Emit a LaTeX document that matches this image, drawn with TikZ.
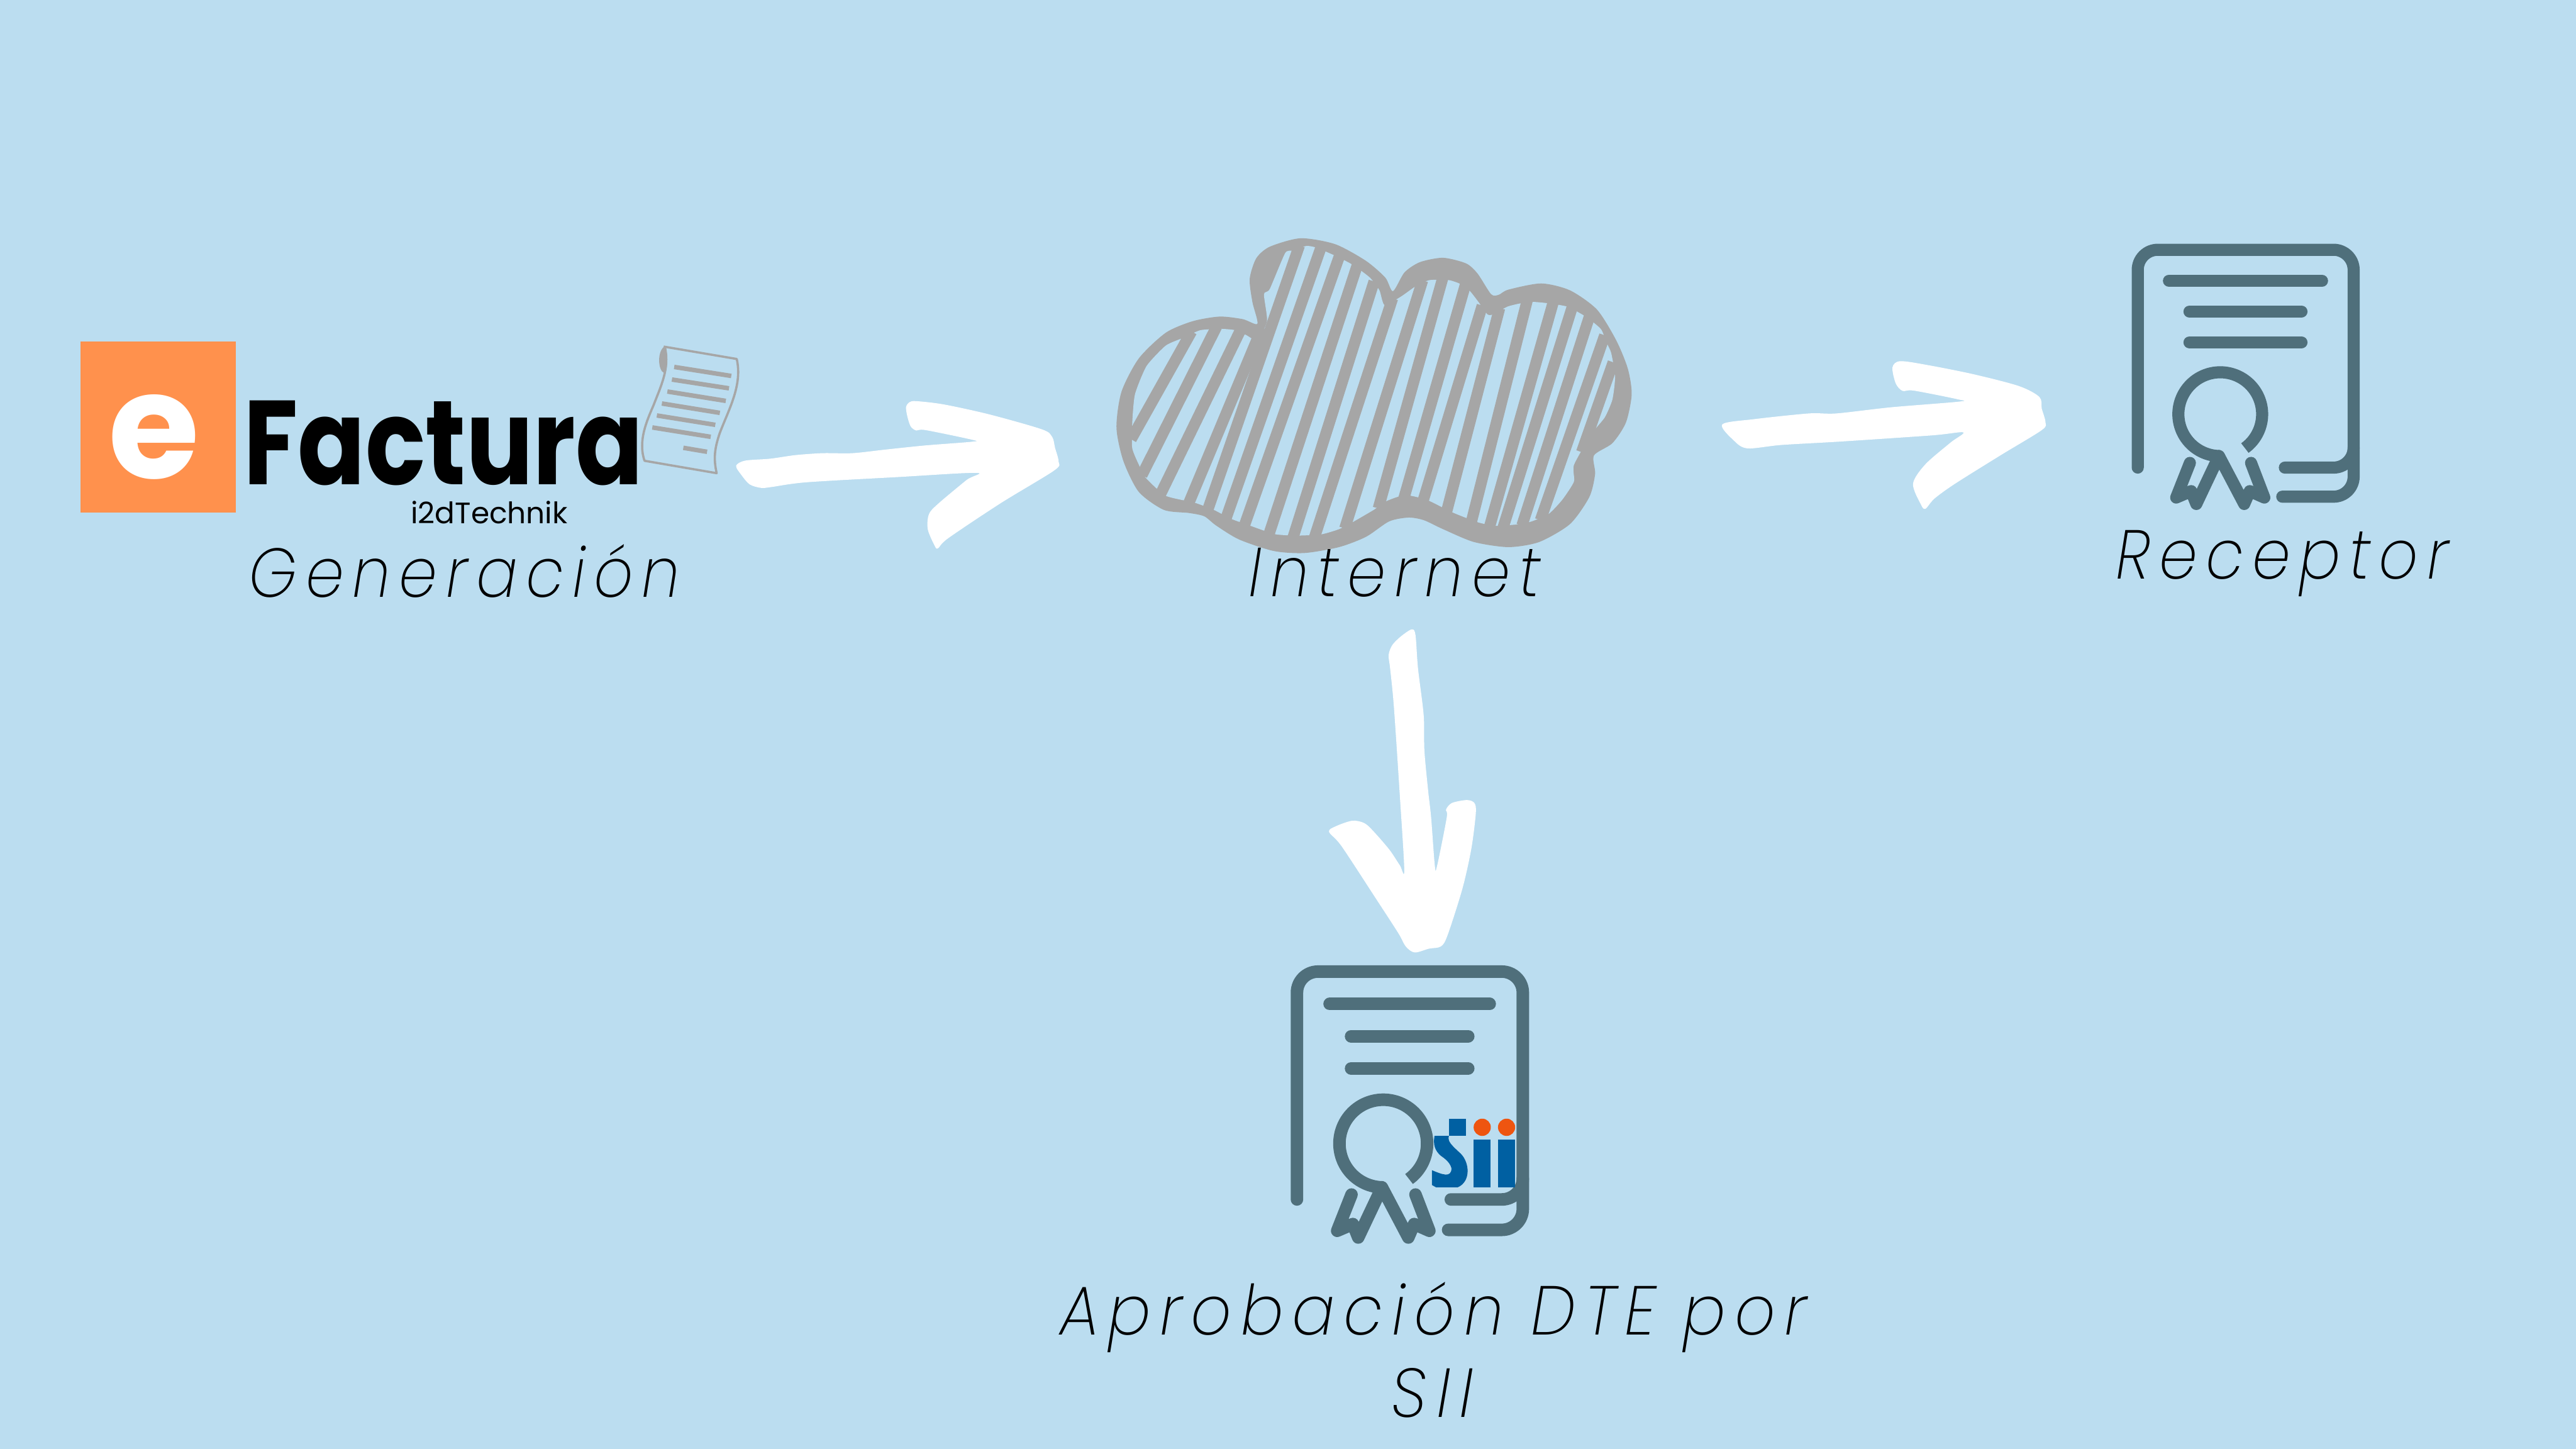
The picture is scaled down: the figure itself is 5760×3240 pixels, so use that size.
\documentclass[tikz,border=0pt]{standalone}
\usepackage{fontspec}
\usepackage{graphicx}
\setmainfont{Poppins}
\newfontfamily\labf[LetterSpace=14]{Poppins ExtraLight Italic}
\newfontfamily\boldf{Poppins Bold}
\definecolor{bgblue}{HTML}{BBDDF0}
\definecolor{cloudgrey}{HTML}{A6A6A6}
\definecolor{iconslate}{HTML}{4F6F7B}
\definecolor{logoorange}{HTML}{FF914D}
\definecolor{siiblue}{HTML}{0060A2}
\definecolor{siired}{HTML}{EE5510}
\tikzset{
  label text/.style={anchor=base west,inner sep=0pt,font=\labf\fontsize{44}{52.9}\selectfont,text=black},
  brush/.style={fill=white,draw=none},
  hatch/.style={draw=cloudgrey,line width=.25cm},
  iconline/.style={draw=iconslate,line width=.28cm,line cap=round,line join=round},
  scrollline/.style={draw=cloudgrey,line width=.10cm},
}
\newcommand{\certicon}{%
  \draw[iconline] (2900,2682) -- (2900,2219.5) .. controls (2900,2193.5) and (2921,2172.5) .. (2947,2172.5)
     -- (3358,2172.5) .. controls (3384,2172.5) and (3405,2193.5) .. (3405,2219.5)
     -- (3405,2703) .. controls (3405,2729) and (3384,2750) .. (3358,2750) -- (3238,2750);
  \draw[iconline] (3244,2682) -- (3358,2682) .. controls (3384,2682) and (3405,2661) .. (3405,2635);
  \draw[iconline] (2973,2245) -- (3331,2245);
  \draw[iconline] (3021,2317) -- (3283,2317);
  \draw[iconline] (3021,2389) -- (3283,2389);
  \draw[iconline,line cap=butt] plot[domain=90:414,samples=60,smooth] ({3093+98*cos(\x)},{2557+98*sin(\x)});
  \draw[iconline] (3022,2671) -- (2990,2752) -- (3025,2737) -- (3037,2767) -- (3090,2655) -- (3149,2767) -- (3162,2737) -- (3196,2752) -- (3165,2671);
}
\begin{document}
\begin{tikzpicture}[x=.01cm,y=-.01cm]
\path[use as bounding box,fill=bgblue] (0,0) rectangle (5760,3240);

% logo
\fill[logoorange] (180,763) rectangle (528,1146);
\node[inner sep=0pt,anchor=base west,text=white,font=\boldf\fontsize{94}{94}\selectfont] (logoe) at (242,1069) {e};
\node[inner sep=0pt,anchor=base west,text=black] (logof) at (544,1083)
  {\scalebox{.832}[1]{\boldf\fontsize{76}{76}\selectfont Factura}};
\node[inner sep=0pt,anchor=base west,text=black,font=\fontsize{18.8}{18.8}\selectfont] (logos) at (918,1171) {i2dTechnik};
% scroll
\begin{scope}[shift={(130,700)},xscale=1.0204,yscale=.4464]
  \draw[draw=cloudgrey,line width=.05cm,line join=round]
    (1327,168) -- (1487,230) .. controls (1500,360) and (1470,480) .. (1450,600)
    .. controls (1438,680) and (1436,730) .. (1443,802) -- (1285,740)
    .. controls (1270,640) and (1290,540) .. (1305,460) .. controls (1320,370) and (1340,280) .. (1330,175);
  \fill[cloudgrey] (1327,170) .. controls (1312,200) and (1315,290) .. (1328,300)
     .. controls (1338,270) and (1336,200) .. (1327,170) -- cycle;
  \foreach \ax/\ay/\bx/\by in {1350/270/1475/315,1345/333/1470/377,1335/393/1463/440,1323/453/1450/500,1312/513/1440/560,1302/573/1430/620,1370/675/1422/695}
    \draw[scrollline] (\ax,\ay) -- (\bx,\by);
\end{scope}

% cloud
\begin{scope}[shift={(2400,480)},xscale=.861,yscale=.574]
  \fill[cloudgrey] plot[smooth cycle,tension=.45] coordinates {
    (112,830) (125,690) (170,560) (240,460) (310,415) (380,397) (440,407) (478,425)
    (465,340) (458,250) (475,170) (510,125) (590,92) (680,115) (760,180) (810,245) (830,298)
    (860,225) (900,185) (960,168) (1020,190) (1050,230) (1085,310) (1105,312) (1130,292)
    (1215,268) (1290,295) (1360,370) (1410,490) (1440,600) (1450,700) (1435,810) (1400,890) (1352,938)
    (1355,1010) (1340,1100) (1290,1205) (1210,1275) (1130,1295) (1040,1275) (960,1225) (910,1190)
    (870,1180) (820,1195) (760,1255) (690,1295) (600,1318) (520,1310) (430,1265) (370,1210)
    (340,1175) (300,1162) (235,1150) (170,1080) (130,960)};
  \fill[bgblue] plot[smooth cycle,tension=.35] coordinates {
    (153,810) (160,700) (190,590) (240,510) (285,480) (330,450) (385,445) (420,450) (450,470) (478,490)
    (503,415) (495,310) (510,290) (550,150) (570,140) (605,122) (630,128) (680,160) (725,195) (770,245)
    (795,295) (808,352) (850,320) (890,278) (925,255) (975,255) (1005,270) (1030,298) (1052,340) (1075,388)
    (1087,390) (1128,358) (1163,345) (1195,340) (1232,345) (1282,358) (1325,392) (1355,425) (1372,450)
    (1387,505) (1397,540) (1407,630) (1400,720) (1380,790) (1345,855) (1300,975) (1300,1040) (1270,1110)
    (1235,1165) (1190,1195) (1150,1207) (1095,1212) (1050,1198) (985,1160) (920,1112) (876,1095) (845,1098)
    (810,1118) (780,1150) (725,1198) (690,1225) (645,1245) (585,1250) (525,1245) (460,1212) (410,1185)
    (365,1150) (315,1122) (240,1095) (188,1025) (172,980) (153,910)};
  \foreach \ax/\ay/\bx/\by in {307/455/150/875,372/436/178/1015,434/450/226/1090,490/440/298/1130,587/120/349/1150,643/128/396/1185,692/157/443/1216,738/194/508/1245,781/260/570/1260,829/326/626/1258,907/256/705/1222,960/243/792/1144,1018/274/858/1107,1062/354/908/1116,1107/364/969/1159,1179/332/1033/1201,1247/337/1080/1220,1296/358/1116/1219,1340/398/1165/1211,1380/470/1213/1190,1402/575/1320/925}
    \draw[hatch] (\ax,\ay) -- (\bx,\by);
\end{scope}

% arrow: generation to internet
\begin{scope}[shift={(1600,850)},xscale=.5102,yscale=.3333]
  \coordinate (a1tail) at (90,575);
  \coordinate (a1tip) at (1503,545);
  \fill[brush] plot[smooth cycle,tension=.5] coordinates {
    (a1tail) (130,540) (240,527) (350,503) (470,490) (600,490) (750,465) (920,438) (1125,413) (1125,400)
    (920,335) (880,338) (855,310) (840,240) (835,180) (850,148) (880,141) (1000,163) (1200,230) (1430,330)
    (1475,380) (1488,455) (a1tip) (1485,605) (1250,825) (1020,1060) (975,1128) (960,1110) (930,1000)
    (935,900) (975,830) (1100,670) (1143,622) (800,650) (400,685) (245,717) (200,723) (150,700) (115,640)};
\end{scope}

% arrow: internet to receptor
\begin{scope}[shift={(3800,500)},xscale=1.0204,yscale=.5102]
  \coordinate (a2tail) at (50,880);
  \coordinate (a2tip) at (758,870);
  \fill[brush] plot[smooth cycle,tension=.5] coordinates {
    (a2tail) (120,857) (240,832) (300,832) (420,805) (570,780) (566,770) (470,732) (445,733) (430,700) (423,630)
    (440,603) (500,620) (600,660) (700,712) (745,760) (750,810) (a2tip) (750,905) (660,1015) (560,1140)
    (515,1205) (495,1250) (485,1230) (468,1140) (495,1055) (550,960) (578,915) (510,928) (310,955)
    (180,970) (105,985) (75,950)};
\end{scope}

% arrow: internet to approval
\begin{scope}[shift={(2900,1380)},xscale=.3333,yscale=.4975]
  \coordinate (a3tail) at (770,55);
  \coordinate (a3tip) at (790,1507);
  \fill[brush] plot[smooth cycle,tension=.5] coordinates {
    (a3tail) (795,80) (812,230) (850,440) (855,600) (880,780) (900,900) (925,1118) (940,1118) (1005,900) (1000,865)
    (1040,835) (1140,822) (1190,835) (1200,880) (1170,1040) (1110,1220) (1010,1430) (965,1480) (885,1490)
    (a3tip) (730,1480) (680,1420) (530,1265) (300,1030) (215,965) (260,940) (370,915) (450,925) (510,960)
    (620,1045) (690,1115) (720,1138) (690,800) (650,400) (625,230) (615,170) (640,125) (700,85)};
\end{scope}

% approval document
\begin{scope}\certicon\end{scope}
\begin{scope}[shift={(2800,2100)},xscale=.4464,yscale=.4592]
  \fill[siiblue] (986,875) rectangle (1072,958);
  \fill[siiblue] (1109,977) rectangle (1195,1208);
  \fill[siiblue] (1232,977) rectangle (1317,1208);
  \fill[siired] (1152,916) ellipse [x radius=43,y radius=42];
  \fill[siired] (1274,916) ellipse [x radius=43,y radius=42];
  \fill[siiblue] (913,958) -- (985,958) .. controls (978,985) and (995,1000) .. (1045,1045)
    .. controls (1090,1090) and (1095,1180) .. (1030,1208) -- (920,1208) -- (900,1197) -- (900,1125)
    .. controls (950,1145) and (998,1165) .. (998,1115) .. controls (990,1085) and (960,1065) .. (945,1055)
    .. controls (915,1030) and (905,1000) .. (913,958) -- cycle;
\end{scope}

% receptor document
\begin{scope}[shift={(4780,558.5)},scale=.956]
  \begin{scope}[shift={(-2900,-2172.5)}]
    \tikzset{iconline/.append style={line width=.27cm}}
    \certicon
  \end{scope}
\end{scope}

% labels
\node[label text] (gen) at (556,1335) {\scalebox{.885}[1]{Generación}};
\node[label text] (net) at (2792,1334) {\scalebox{.89}[1]{Internet}};
\node[label text] (rec) at (4731,1295) {\scalebox{.885}[1]{Receptor}};
\node[label text,anchor=base] (apr) at (3205,2985) {\scalebox{.916}[1]{Aprobación DTE por}};
\node[label text,anchor=base] (aprb) at (3203,3169) {\scalebox{.95}[1]{SII}};
\end{tikzpicture}
\end{document}
